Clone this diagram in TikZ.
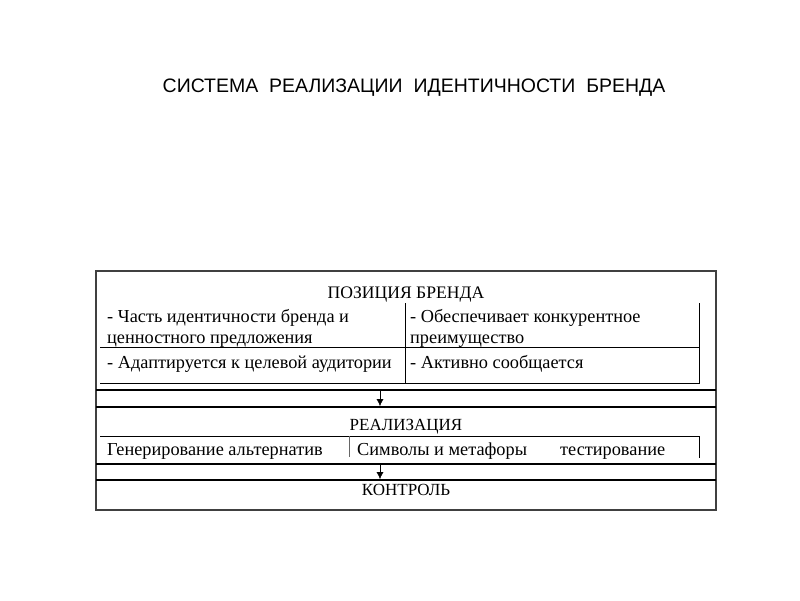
\documentclass[tikz,border=0pt]{standalone}
\usepackage{fontspec}
\setmainfont{Liberation Serif}
\newfontfamily\headfont{Liberation Sans}
\usepackage{tikz}
\usetikzlibrary{arrows.meta}

\tikzset{cell/.style={anchor=base west,inner sep=0pt,font=\fontsize{18.3}{21}\selectfont},
         head/.style={anchor=base,inner sep=0pt,font=\fontsize{17}{20}\selectfont}}

\begin{document}
\begin{tikzpicture}[x=1pt,y=-1pt]
\useasboundingbox (0,0) rectangle (800,600);
\node[anchor=base,inner sep=0pt,font=\headfont\fontsize{19.5}{22}\selectfont] (title) at (414,92)
  {СИСТЕМА\ \ РЕАЛИЗАЦИИ\ \ ИДЕНТИЧНОСТИ\ \ БРЕНДА};
% outer frame
\draw[line width=1.6pt,black!75] (96,271) rectangle (716,510);
\foreach \y in {390,407,464,480}
\draw[line width=1.1pt] (96,\y) -- (716,\y);
% position table
\draw (100,347) -- (700,347);
\draw (100,383) -- (700,383);
\draw (405,303) -- (405,383);
\draw (699,303) -- (699,383);
% realisation table
\draw (100,436) -- (700,436);
\draw[black!60] (349,436) -- (349,457);
\draw (699,436) -- (699,458);
%\draw (100,458) -- (700,458);
\node[head,font=\fontsize{17.6}{20}\selectfont] (pos) at (406,298) {ПОЗИЦИЯ БРЕНДА};
\node[cell] (p1) at (107,322) {- Часть идентичности бренда и};
\node[cell] (p2) at (107,343) {ценностного предложения};
\node[cell] (p3) at (410,322) {- Обеспечивает конкурентное};
\node[cell] (p4) at (410,343) {преимущество};
\node[cell] (p5) at (107,368) {- Адаптируется к целевой аудитории};
\node[cell] (p6) at (410,368) {- Активно сообщается};
\node[head] (real) at (406,430) {РЕАЛИЗАЦИЯ};
\node[cell] (r1) at (107,455) {Генерирование альтернатив};
\node[cell] (r2) at (357,455) {Символы и метафоры};
\node[cell] (r3) at (560,455) {тестирование};
\node[head] (ctrl) at (406,495) {КОНТРОЛЬ};
\coordinate (a1) at (380,391);
\coordinate (b1) at (380,406);
\coordinate (a2) at (380,465);
\coordinate (b2) at (380,479);
\draw[-{Latex[length=7pt,width=7pt]}] (a1) -- (b1);
\draw[-{Latex[length=7pt,width=7pt]}] (a2) -- (b2);
\end{tikzpicture}
\end{document}
